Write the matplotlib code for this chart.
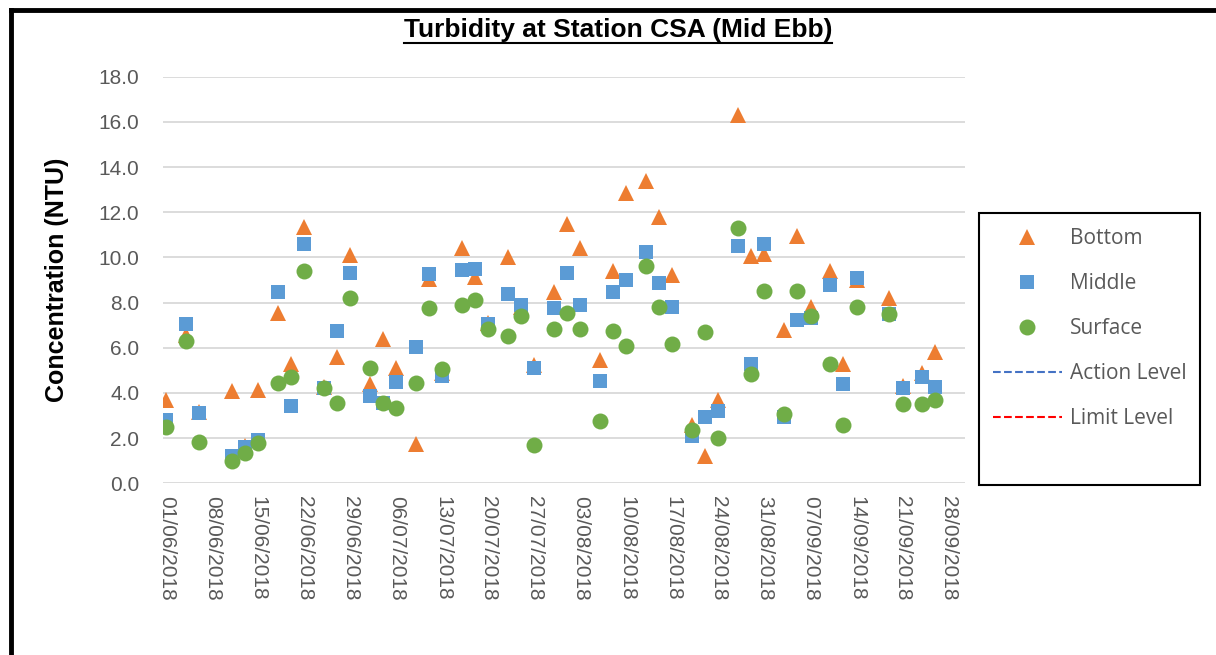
import matplotlib.pyplot as plt
import matplotlib.dates as mdates
from matplotlib.lines import Line2D
from matplotlib.patches import Rectangle
import pandas as pd

# Sampling dates (mid ebb tide, three times a week)
dates = ["01/06/2018", "04/06/2018", "06/06/2018", "11/06/2018", "13/06/2018",
         "15/06/2018", "18/06/2018", "20/06/2018", "22/06/2018", "25/06/2018",
         "27/06/2018", "29/06/2018", "02/07/2018", "04/07/2018", "06/07/2018",
         "09/07/2018", "11/07/2018", "13/07/2018", "16/07/2018", "18/07/2018",
         "20/07/2018", "23/07/2018", "25/07/2018", "27/07/2018", "30/07/2018",
         "01/08/2018", "03/08/2018", "06/08/2018", "08/08/2018", "10/08/2018",
         "13/08/2018", "15/08/2018", "17/08/2018", "20/08/2018", "22/08/2018",
         "24/08/2018", "27/08/2018", "29/08/2018", "31/08/2018", "03/09/2018",
         "05/09/2018", "07/09/2018", "10/09/2018", "12/09/2018", "14/09/2018",
         "19/09/2018", "21/09/2018", "24/09/2018", "26/09/2018"]

# Turbidity (NTU) per depth
bottom = [3.7, 6.55, 3.15, 4.1, 1.65, 4.15, 7.55, 5.3, 11.35, 4.25,
          5.6, 10.1, 4.4, 6.4, 5.1, 1.75, 9.05, 4.9, 10.4, 9.15,
          7.1, 10.0, 7.8, 5.25, 8.45, 11.5, 10.4, 5.45, 9.4, 12.85,
          13.4, 11.8, 9.2, 2.6, 1.2, 3.7, 16.3, 10.05, 10.15, 6.8,
          10.95, 7.8, 9.4, 5.3, 9.0, 8.2, 4.3, 4.9, 5.8]
middle = [2.8, 7.05, 3.1, 1.2, 1.6, 1.9, 8.45, 3.4, 10.6, 4.2,
          6.75, 9.3, 3.85, 3.55, 4.5, 6.05, 9.25, 4.75, 9.45, 9.5,
          7.05, 8.4, 7.9, 5.1, 7.75, 9.3, 7.9, 4.55, 8.45, 9.0,
          10.25, 8.85, 7.8, 2.1, 2.95, 3.2, 10.5, 5.3, 10.6, 2.95,
          7.25, 7.3, 8.8, 4.4, 9.1, 7.5, 4.2, 4.7, 4.25]
surface = [2.5, 6.3, 1.85, 1.0, 1.35, 1.8, 4.45, 4.7, 9.4, 4.2,
           3.55, 8.2, 5.1, 3.55, 3.35, 4.45, 7.75, 5.05, 7.9, 8.1,
           6.85, 6.5, 7.4, 1.7, 6.85, 7.55, 6.85, 2.75, 6.75, 6.1,
           9.6, 7.8, 6.15, 2.35, 6.7, 2.0, 11.3, 4.85, 8.5, 3.05,
           8.5, 7.4, 5.3, 2.6, 7.8, 7.5, 3.5, 3.5, 3.7]

x = pd.to_datetime(dates, format="%d/%m/%Y")

grey = "#595959"
plt.rcParams["font.family"] = ["Liberation Sans", "DejaVu Sans"]

W, H = 1216, 655
fig = plt.figure(figsize=(W / 100, H / 100), dpi=100)
ax = fig.add_axes([163 / W, 1 - 483.3 / H, (965 - 163) / W, (483.3 - 76.7) / H])

ax.plot(x, bottom, ls="none", marker="^", ms=12, mew=0, color="#ED7D31", zorder=3)
ax.plot(x, middle, ls="none", marker="s", ms=10.5, mew=0, color="#5B9BD5", zorder=4)
ax.plot(x, surface, ls="none", marker="o", ms=11.5, mew=0, color="#70AD47", zorder=5)

# Axis: daily slots from 01/06 to 30/09, weekly labels
start = pd.Timestamp("2018-06-01")
ax.set_xlim(start - pd.Timedelta(hours=12), pd.Timestamp("2018-09-30") + pd.Timedelta(hours=12))
ax.set_xticks(pd.date_range(start, "2018-09-28", freq="7D"))
ax.xaxis.set_major_formatter(mdates.DateFormatter("%d/%m/%Y"))
ax.set_ylim(0, 18)
ax.set_yticks(range(0, 19, 2))
ax.yaxis.set_major_formatter(plt.FuncFormatter(lambda v, p: f"{v:.1f}"))

ax.grid(axis="y", color="#D9D9D9", lw=1.3)
ax.set_axisbelow(True)
for s in ax.spines.values():
    s.set_visible(False)
ax.tick_params(axis="both", length=0, labelcolor=grey, labelsize=15)
ax.tick_params(axis="y", pad=17)
ax.tick_params(axis="x", pad=9)
for lab in ax.get_xticklabels():
    lab.set_rotation(270)
    lab.set_va("top")
    lab.set_ha("center")

fig.text(57 / W, 1 - 280 / H, "Concentration (NTU)", rotation=90, fontsize=18,
         fontweight="bold", ha="center", va="center")

# Title with underline
title = fig.text(618 / W, 1 - 30 / H, "Turbidity at Station CSA (Mid Ebb)",
                 family=["Liberation Sans Narrow", "Liberation Sans"], fontsize=19,
                 fontweight="bold", ha="center", va="center")
fig.canvas.draw()
bb = title.get_window_extent().transformed(fig.transFigure.inverted())
fig.add_artist(Line2D([bb.x0, bb.x1], [bb.y0 - 0.002, bb.y0 - 0.002],
                      transform=fig.transFigure, color="black", lw=1.5))

# Outer frame (top and left edges)
fig.add_artist(Line2D([11 / W, 1], [1 - 10 / H, 1 - 10 / H], transform=fig.transFigure,
                      color="black", lw=3.5))
fig.add_artist(Line2D([11 / W, 11 / W], [0, 1 - 10 / H], transform=fig.transFigure,
                      color="black", lw=3.5))

# Legend box
fig.add_artist(Rectangle((979 / W, 1 - 485 / H), (1200 - 979) / W, (485 - 213) / H,
                         transform=fig.transFigure, fill=False, ec="black", lw=1.5))
handles = [
    Line2D([], [], ls="none", marker="^", ms=12, mew=0, color="#ED7D31"),
    Line2D([], [], ls="none", marker="s", ms=10.5, mew=0, color="#5B9BD5"),
    Line2D([], [], ls="none", marker="o", ms=11.5, mew=0, color="#70AD47"),
    Line2D([], [], ls="--", lw=1.5, color="#4472C4"),
    Line2D([], [], ls="--", lw=1.5, color="#FF0000"),
]
labels = ["Bottom", "Middle", "Surface", "Action Level", "Limit Level"]
fig.legend(handles, labels, loc="upper left", bbox_to_anchor=(993 / W, 1 - 228 / H),
           frameon=False, borderpad=0, borderaxespad=0,
           handlelength=3.3, handletextpad=0.4, labelspacing=1.15,
           labelcolor=grey, prop={"family": ["Open Sans", "DejaVu Sans"], "size": 15})

fig.savefig("out.png", dpi=100)
